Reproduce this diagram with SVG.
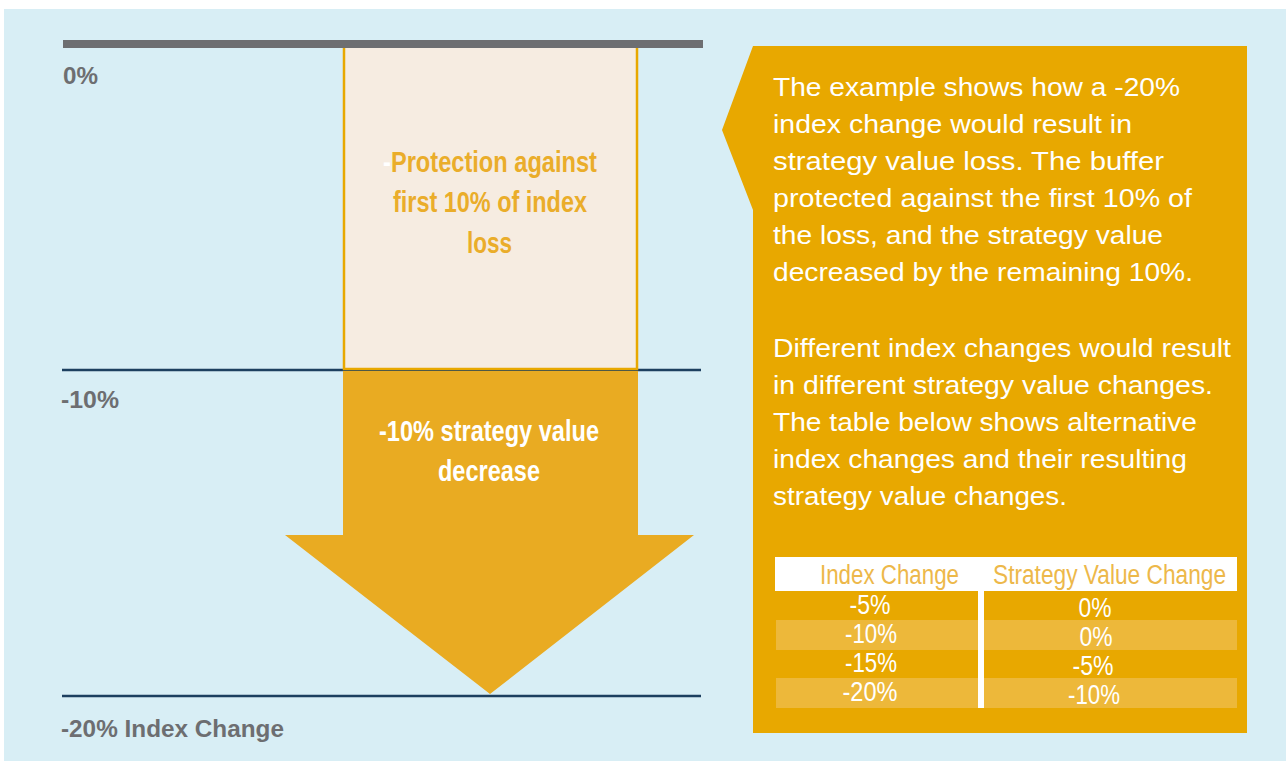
<svg xmlns="http://www.w3.org/2000/svg" width="1286" height="761" viewBox="0 0 1286 761">
<style>
.axis{font-family:"Liberation Sans",Arial,sans-serif;font-weight:bold;fill:#6D6E71;font-size:24px}
.cond{font-family:"Liberation Sans Narrow","Liberation Sans",Arial,sans-serif;font-weight:bold;font-size:30px;text-anchor:start}
.body{font-family:"Liberation Sans",Arial,sans-serif;fill:#FFFFFF;font-size:26px}
.th{font-family:"Liberation Sans Narrow","Liberation Sans",Arial,sans-serif;fill:#EDB84A;font-size:27px}
.td{font-family:"Liberation Sans Narrow","Liberation Sans",Arial,sans-serif;fill:#FFFFFF;font-size:27px}
.rule{stroke:#1C3F5F;stroke-width:2.5}
</style>
<rect x="4" y="9" width="1282" height="752" fill="#D8EEF5"/>

<g id="connectors">
<line class="rule" x1="62" y1="370" x2="701" y2="370"/>
<line class="rule" x1="62" y1="696" x2="701" y2="696"/>
</g>

<g id="protection-box">
<rect x="344" y="46" width="293" height="323" fill="#F6ECE1" stroke="#E8A800" stroke-width="2.5"/>
<text class="cond" x="383" y="172" textLength="214" lengthAdjust="spacingAndGlyphs"><tspan fill="#FFFFFF">-</tspan><tspan fill="#EAAD2A">Protection against</tspan></text>
<text class="cond" x="393" y="212" fill="#EAAD2A" textLength="194" lengthAdjust="spacingAndGlyphs">first 10% of index</text>
<text class="cond" x="467" y="253" fill="#EAAD2A" textLength="45" lengthAdjust="spacingAndGlyphs">loss</text>
</g>

<g id="top-bar">
<rect x="63" y="40" width="640" height="8" fill="#6D6E71"/>
</g>

<g id="decrease-arrow">
<polygon points="343,371 638,371 638,535 694,535 490,694 285,535 343,535" fill="#E9AB22"/>
<text class="cond" x="379" y="441" fill="#FFFFFF" textLength="220" lengthAdjust="spacingAndGlyphs">-10% strategy value</text>
<text class="cond" x="438" y="481" fill="#FFFFFF" textLength="102" lengthAdjust="spacingAndGlyphs">decrease</text>
</g>

<g id="axis-labels">
<text class="axis" x="63" y="84" textLength="35" lengthAdjust="spacingAndGlyphs">0%</text>
<text class="axis" x="61" y="408" textLength="58" lengthAdjust="spacingAndGlyphs">-10%</text>
<text class="axis" x="61" y="737" textLength="223" lengthAdjust="spacingAndGlyphs">-20% Index Change</text>
</g>

<g id="callout">
<polygon points="753,46 1247,46 1247,733 753,733 753,210 722,130" fill="#E8A800"/>
<text class="body" x="773" y="96" textLength="407" lengthAdjust="spacingAndGlyphs">The example shows how a -20%</text>
<text class="body" x="773" y="133" textLength="359" lengthAdjust="spacingAndGlyphs">index change would result in</text>
<text class="body" x="773" y="170" textLength="391" lengthAdjust="spacingAndGlyphs">strategy value loss. The buffer</text>
<text class="body" x="773" y="207" textLength="419" lengthAdjust="spacingAndGlyphs">protected against the first 10% of</text>
<text class="body" x="773" y="244" textLength="390" lengthAdjust="spacingAndGlyphs">the loss, and the strategy value</text>
<text class="body" x="773" y="281" textLength="420" lengthAdjust="spacingAndGlyphs">decreased by the remaining 10%.</text>
<text class="body" x="773" y="357" textLength="458" lengthAdjust="spacingAndGlyphs">Different index changes would result</text>
<text class="body" x="773" y="394" textLength="440" lengthAdjust="spacingAndGlyphs">in different strategy value changes.</text>
<text class="body" x="773" y="431" textLength="424" lengthAdjust="spacingAndGlyphs">The table below shows alternative</text>
<text class="body" x="773" y="468" textLength="414" lengthAdjust="spacingAndGlyphs">index changes and their resulting</text>
<text class="body" x="773" y="505" textLength="294" lengthAdjust="spacingAndGlyphs">strategy value changes.</text>
</g>

<g id="table">
<rect x="775" y="557" width="462" height="34" fill="#FFFFFF"/>
<rect x="776" y="620" width="461" height="30" fill="#EDB83A"/>
<rect x="776" y="678" width="461" height="30" fill="#EDB83A"/>
<rect x="978" y="590" width="6" height="118" fill="#FFFFFF"/>
<text class="th" x="820" y="584" textLength="139" lengthAdjust="spacingAndGlyphs">Index Change</text>
<text class="th" x="993" y="584" textLength="233" lengthAdjust="spacingAndGlyphs">Strategy Value Change</text>
<g text-anchor="middle">
<text class="td" x="870" y="614" textLength="41" lengthAdjust="spacingAndGlyphs">-5%</text>
<text class="td" x="871" y="643" textLength="52" lengthAdjust="spacingAndGlyphs">-10%</text>
<text class="td" x="871" y="672" textLength="52" lengthAdjust="spacingAndGlyphs">-15%</text>
<text class="td" x="870" y="701" textLength="55" lengthAdjust="spacingAndGlyphs">-20%</text>
<text class="td" x="1095" y="617" textLength="33" lengthAdjust="spacingAndGlyphs">0%</text>
<text class="td" x="1096" y="646" textLength="33" lengthAdjust="spacingAndGlyphs">0%</text>
<text class="td" x="1093" y="675" textLength="41" lengthAdjust="spacingAndGlyphs">-5%</text>
<text class="td" x="1094" y="704" textLength="52" lengthAdjust="spacingAndGlyphs">-10%</text>
</g>
</g>
</svg>
